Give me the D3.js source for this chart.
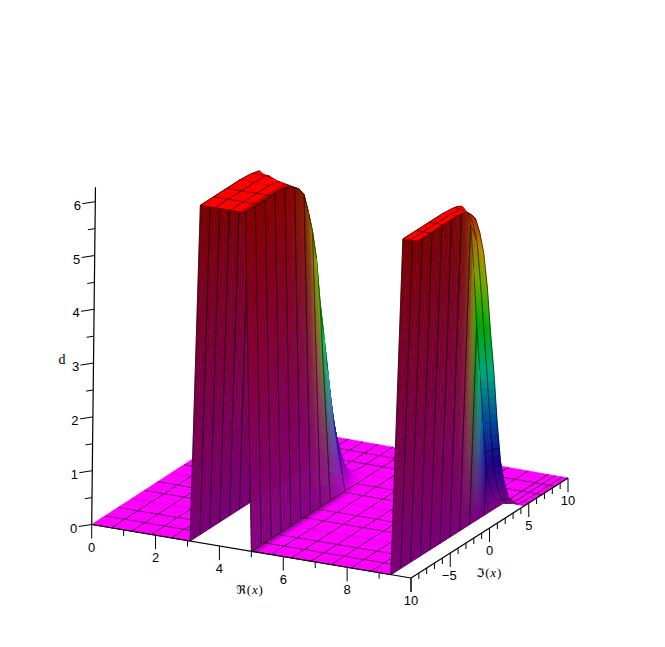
<!DOCTYPE html>
<html><head><meta charset="utf-8">
<style>html,body{margin:0;padding:0;background:#fff}svg{display:block}text{fill:#000}</style>
<script src="https://cdn.jsdelivr.net/npm/d3@7"></script>
</head><body><svg id="chart" width="665" height="647"></svg>
<script>
// ---- data ----
const reGrid = [0,0.62,1.25,1.87,2.5,3.08,3.09,3.55,4.02,4.49,5,5.62,6.25,6.87,7.5,8.12,8.75,9.37,9.38,9.6,9.82,10];
const imGrid = [-10,-8.75,-7.5,-6.25,-5,-4.375,-3.75,-3.125,-2.5,-1.875,-1.25,-0.625,0,0.625,1.25,1.875,2.5,3.125,3.75,4.375,5,6.25,7.5,8.75,10];
const ribIm = [-10,-8.75,-7.5,-6.25,-5,-3.75,-2.5,-1.25,0,1.875,3.75,5];
const floorProfile = imGrid.map(()=>0);
const heightAtRe309 = [6.24,6.24,6.24,6.24,6.24,6.23,6.22,6.2,6.17,5.92,5.5,4.8,4.0,3.2,2.4,1.65,1.0,0.55,0.3,0.1,0.02,0,0,0,0];
const heightAtRe355 = [6.24,6.24,6.24,6.24,6.24,6.24,6.23,6.18,6.0,5.65,5.2,4.6,3.8,3.05,2.3,1.6,1.0,0.55,0.3,0.1,0.02,0,0,0,0];
const heightAtRe402 = [6.24,6.24,6.24,6.24,6.23,6.22,6.18,6.05,5.9,5.55,5.1,4.55,3.7,3.0,2.3,1.55,0.97,0.52,0.27,0.1,0.02,0,0,0,0];
const heightAtRe449 = [6.24,6.24,6.24,6.24,6.22,6.18,6.12,6.03,5.87,5.5,5.07,4.5,3.65,2.97,2.27,1.52,0.95,0.5,0.25,0.1,0.02,0,0,0,0];
const heightAtRe938 = [6.24,6.24,6.24,6.24,6.24,6.23,6.22,6.2,6.15,6.0,5.7,4.8,3.7,2.8,1.8,0.9,0.45,0.2,0.05,0.01,0,0,0,0,0];
const heightAtRe960 = [6.24,6.24,6.24,6.24,6.24,6.23,6.21,6.14,6.02,5.8,5.4,4.6,3.7,2.8,1.85,0.98,0.5,0.22,0.08,0.02,0,0,0,0,0];
const heightAtRe982 = [6.24,6.24,6.24,6.24,6.24,6.23,6.2,6.1,5.97,5.65,5.2,4.5,3.6,2.8,1.85,1.05,0.57,0.25,0.11,0.015,0.01,0,0,0,0];
const heightColumns = new Map([[3.09,heightAtRe309],[3.55,heightAtRe355],[4.02,heightAtRe402],[4.49,heightAtRe449],
                               [9.38,heightAtRe938],[9.6,heightAtRe960],[9.82,heightAtRe982]]);
const meshRowsIm = [-10,-8.33,-6.67,-5,-3.33,-1.67,0,1.67,3.33,5,6.67,8.33,10];
const fallRowsIm = [0,1.67];
const reTicks = [0,1,2,3,4,5,6,7,8,9,10];
const reLabels = [0,2,4,6,8,10];
const imTicks = d3.range(-10,11);
const imLabels = [-5,0,5,10];
const zTicks = [0,0.5,1,1.5,2,2.5,3,3.5,4,4.5,5,5.5,6];
const zLabels = [0,1,2,3,4,5,6];
const zTop = 6.27, zMax = 6.25;

// ---- projection, built from d3 scales ----
const uScale = d3.scaleLinear().domain([0,10]).range([0,1]);
const vScale = d3.scaleLinear().domain([-10,10]).range([0,1]);
const frontX = d3.scaleLinear().domain([0,1]).range([91.7,411]);
const frontY = d3.scaleLinear().domain([0,1]).range([524.5,578]);
const backX  = d3.scaleLinear().domain([0,1]).range([250,568]);
const backY  = d3.scaleLinear().domain([0,1]).range([422,478]);
const leanScale = d3.scaleLinear().domain([0,3,10]).range([0.6,1.6,1.9]);
const zPixels = d3.scaleLinear().domain([0,1]).range([0,53.8]);
const hueScale = d3.scaleLinear().domain([0,zMax]).range([300,0]).clamp(true);
const ridgeLight = d3.scaleLinear().domain([5.5,3.5,1.5,0.3]).range([0.52,0.92,0.72,0.52]).clamp(true);
const wallLight = d3.scaleLinear().domain([-2,0.5]).range([0.48,0.72]).clamp(true);
const fallLight = d3.scaleLinear().domain([1.0,3.0,6.15]).range([0.55,0.72,0.72]).clamp(true);

function project(re,im,z){
  const u=uScale(re), v=vScale(im);
  const x=frontX(u)*(1-v)+backX(u)*v, y=frontY(u)*(1-v)+backY(u)*v;
  return [x+leanScale(re)*z, y-zPixels(z)];
}
const zAt=(i,j)=>(heightColumns.get(reGrid[i])||floorProfile)[j];

function vertexLight(i,j){
  const wide=(a,b)=>a>=0&&b<reGrid.length&&reGrid[b]-reGrid[a]>0.1&&reGrid[b]!==10;
  let l=i,r=i;
  if(wide(i-1,i)) l=i-1;
  if(wide(i,i+1)) r=i+1;
  const gRe=l===r?0:(zAt(r,j)-zAt(l,j))/(reGrid[r]-reGrid[l]);
  const a=Math.max(0,j-1), b=Math.min(imGrid.length-1,j+1);
  const gIm=1.5*(zAt(i,b)-zAt(i,a))/(imGrid[b]-imGrid[a]);
  let light=0.42+0.58/Math.sqrt(1+gRe*gRe+gIm*gIm);
  const z=zAt(i,j), re=reGrid[i];
  if(re===4.49 && z>0.3) light=ridgeLight(z);
  if(re>=9.38 && z<6.15 && z>0.03) light=Math.min(light,fallLight(z));
  return light;
}
function vertexColor(z,b){
  const c=d3.rgb(d3.hsl(hueScale(z),1,0.5));
  return [c.r*b,c.g*b,c.b*b];
}

// ---- build cells back to front ----
const items=[];
const line=d3.line();
for(let j=imGrid.length-2;j>=0;j--){
  for(let i=0;i<reGrid.length-1;i++){
    const re0=reGrid[i],re1=reGrid[i+1],im0=imGrid[j],im1=imGrid[j+1];
    const z=[zAt(i,j),zAt(i+1,j),zAt(i,j+1),zAt(i+1,j+1)];
    if(re1===10 && Math.max(z[0],z[2])>0.02) continue;   // surface stops short of the last edge while raised
    const thinWall=re1-re0<0.1;
    const wb=re0>9?[0.48,z[1]>1?wallLight(im0):0.55,0.48,z[3]>1?wallLight(im1):0.55]:[0.48,0.48,0.48,0.48];
    const b=thinWall?wb:[vertexLight(i,j),vertexLight(i+1,j),vertexLight(i,j+1),vertexLight(i+1,j+1)];
    const cols=z.map((q,k)=>vertexColor(q,b[k]));
    const dz=d3.max(z)-d3.min(z), db=d3.max(b)-d3.min(b);
    const flat=dz<0.3;
    let nu,nv;
    if(thinWall){nu=dz>0.02?30:1;nv=dz>0.02?2:1;}
    else if(dz>0.02){nu=14;nv=6;}
    else if(db>0.01){nu=8;nv=4;}
    else {nu=1;nv=1;}
    const P=(s,t)=>{
      const zz=z[0]*(1-s)*(1-t)+z[1]*s*(1-t)+z[2]*(1-s)*t+z[3]*s*t;
      return project(re0+(re1-re0)*s,im0+(im1-im0)*t,zz);
    };
    // shading falls off quickly from a dark edge on flat cells
    const easeS=s=>{
      if(!flat||dz>0.06) return s;
      const left=b[0]+b[2], right=b[1]+b[3];
      if(Math.abs(left-right)<0.02) return s;
      return left<right?Math.min(1,s/0.45):Math.max(0,(s-0.55)/0.45);
    };
    for(let tv=nv-1;tv>=0;tv--)for(let tu=0;tu<nu;tu++){
      const s0=tu/nu,s1=(tu+1)/nu,t0=tv/nv,t1=(tv+1)/nv,sc=easeS((s0+s1)/2),tc=(t0+t1)/2;
      const w=[(1-sc)*(1-tc),sc*(1-tc),(1-sc)*tc,sc*tc];
      const rgb=[0,1,2].map(k=>Math.round(w[0]*cols[0][k]+w[1]*cols[1][k]+w[2]*cols[2][k]+w[3]*cols[3][k]));
      items.push({d:line([P(s0,t0),P(s1,t0),P(s1,t1),P(s0,t1)])+"Z",fill:`rgb(${rgb})`,kind:"f"});
    }
    const edge=(pts)=>items.push({d:line(pts),kind:"l"});
    if(Math.abs(z[1]-z[0])>0.25 && ribIm.includes(im0)) edge([P(0,0),P(1,0)]);
    if(Math.abs(z[3]-z[2])>0.25 && ribIm.includes(im1)) edge([P(0,1),P(1,1)]);
    if(!thinWall){
      if(flat) meshRowsIm.filter(y=>y>=im0&&y<im1).forEach(y=>{
        const t=(y-im0)/(im1-im0); edge([P(0,t),P(1,t)]);
      });
      if(re0>=9.38&&re1<10) fallRowsIm.filter(y=>y>=im0&&y<im1).forEach(y=>{
        const t=(y-im0)/(im1-im0); edge([P(0,t),P(1,t)]);
      });
      if(i>0) edge([P(0,0),P(0,1)]);
      edge([P(1,0),P(1,1)]);
    }
  }
}
const svg=d3.select("#chart");
svg.append("g").selectAll("path").data(items).join("path")
  .attr("d",d=>d.d)
  .attr("fill",d=>d.kind==="f"?d.fill:"none")
  .attr("stroke",d=>d.kind==="f"?d.fill:"#000")
  .attr("stroke-opacity",d=>d.kind==="f"?1:0.55)
  .attr("stroke-width",d=>d.kind==="f"?0.7:1)
  .attr("stroke-linejoin","round");

// ---- axes ----
const ax=svg.append("g").attr("stroke","#000").attr("fill","none");
const seg=(a,b,w)=>ax.append("path").attr("d",line([a,b])).attr("stroke-width",w||1.2);
seg(project(0,-10,0),project(10,-10,0));
seg(project(10,-10,0),project(10,10,0));
seg(project(0,-10,0),project(0,-10,zTop));
reTicks.forEach(t=>{const p=project(t,-10,0),L=reLabels.includes(t)?14:6;seg(p,[p[0],p[1]+L],1);});
imTicks.forEach(t=>{const p=project(10,t,0),L=imLabels.includes(t)||t===-10?14:6;seg(p,[p[0],p[1]+L],1);});
zTicks.forEach(t=>{const p=project(0,-10,t),k=zLabels.includes(t)?1:0.55;seg(p,[p[0]-13*k,p[1]+2*k],1);});

const labels=svg.append("g").attr("font-family","'Liberation Sans',Arial,sans-serif").attr("font-size",13).attr("text-anchor","middle");
const put=(x,y,s)=>labels.append("text").attr("x",x).attr("y",y).text(s);
reLabels.forEach(t=>{const p=project(t,-10,0);put(p[0],p[1]+27,t);});
imLabels.forEach(t=>{const p=project(10,t,0);put(p[0]+(t<0?-1:0),p[1]+27,t<0?"\u2212"+(-t):t);});
zLabels.forEach(t=>{const p=project(0,-10,t);put(p[0]-18,p[1]+8,t);});

const title=(x,y,sym)=>{
  const t=svg.append("text").attr("x",x).attr("y",y).attr("text-anchor","middle")
    .attr("font-family","'Liberation Serif','DejaVu Serif',serif").attr("font-size",13).attr("letter-spacing",0.8);
  t.append("tspan").attr("font-family","'DejaVu Sans',sans-serif").attr("font-size",12).text(sym);
  t.append("tspan").text("(");
  t.append("tspan").attr("font-style","italic").text("x");
  t.append("tspan").text(")");
};
title(250,594,"\u211C");
title(489,577,"\u2111");
svg.append("text").attr("x",62).attr("y",364).attr("text-anchor","middle")
  .attr("font-family","'Liberation Serif',serif").attr("font-size",14).text("d");
</script></body></html>
